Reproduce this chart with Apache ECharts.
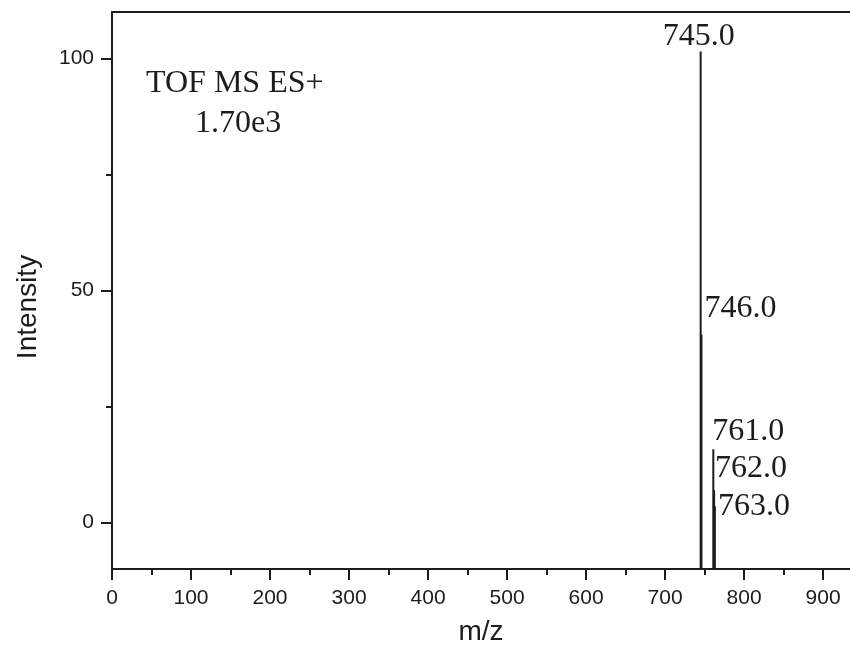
<!DOCTYPE html>
<html>
<head>
<meta charset="utf-8">
<title>TOF MS ES+ spectrum</title>
<script src="https://cdn.jsdelivr.net/npm/echarts@6/dist/echarts.min.js"></script>
<style>
  html, body { margin: 0; padding: 0; background: #ffffff; }
  #chart { width: 850px; height: 656px; }
</style>
</head>
<body>
<div id="chart"></div>
<script>
// Peak list of the mass spectrum (m/z, relative intensity)
const peakMz = [745, 746, 761, 762, 763];
const peakIntensity = [101.5, 40.5, 15.8, 7.0, 3.5];
const peakLabels = ['745.0', '746.0', '761.0', '762.0', '763.0'];

// Axis ticks
const xMajorTicks = [0, 100, 200, 300, 400, 500, 600, 700, 800, 900];
const xMinorTicks = [50, 150, 250, 350, 450, 550, 650, 750, 850];
const yMajorTicks = [0, 50, 100];
const yMinorTicks = [25, 75];

// Label placement relative to each peak top (pixels)
const labelOffsets = [
  { dx: -2, dy: -15, align: 'center' },
  { dx: 3, dy: -26, align: 'left' },
  { dx: -1, dy: -18, align: 'left' },
  { dx: 1, dy: -21, align: 'left' },
  { dx: 3, dy: 0, align: 'left' }
];

const ink = '#1c1c1c';
const serif = '"Liberation Serif", "Times New Roman", serif';
const sans = '"Liberation Sans", Arial, sans-serif';

const X_MIN = 0, X_MAX = 934, Y_MIN = -10, Y_MAX = 110;

const chart = echarts.init(document.getElementById('chart'), null, { renderer: 'canvas' });

const peaks = peakMz.map((mz, i) => [mz, peakIntensity[i], i]);

chart.setOption({
  backgroundColor: '#ffffff',
  animation: false,
  grid: { left: 112, right: 0, top: 12, bottom: 87 },
  xAxis: [
    {
      type: 'value', min: X_MIN, max: X_MAX, position: 'bottom',
      axisLine: { show: true, onZero: false, lineStyle: { color: ink, width: 2 } },
      axisTick: { show: true, inside: false, length: 11, customValues: xMajorTicks, lineStyle: { color: ink, width: 2 } },
      axisLabel: { show: true, customValues: xMajorTicks, margin: 19, color: ink, fontSize: 21, fontFamily: sans },
      splitLine: { show: false }
    },
    {
      type: 'value', min: X_MIN, max: X_MAX, position: 'bottom',
      axisLine: { show: false, onZero: false },
      axisTick: { show: true, inside: false, length: 6, customValues: xMinorTicks, lineStyle: { color: ink, width: 2 } },
      axisLabel: { show: false },
      splitLine: { show: false }
    },
    {
      type: 'value', min: X_MIN, max: X_MAX, position: 'top',
      axisLine: { show: true, onZero: false, lineStyle: { color: ink, width: 2 } },
      axisTick: { show: false },
      axisLabel: { show: false },
      splitLine: { show: false }
    }
  ],
  yAxis: [
    {
      type: 'value', min: Y_MIN, max: Y_MAX, position: 'left',
      axisLine: { show: true, onZero: false, lineStyle: { color: ink, width: 2 } },
      axisTick: { show: true, inside: false, length: 11, customValues: yMajorTicks, lineStyle: { color: ink, width: 2 } },
      axisLabel: { show: true, customValues: yMajorTicks, margin: 18, color: ink, fontSize: 21, fontFamily: sans },
      splitLine: { show: false }
    },
    {
      type: 'value', min: Y_MIN, max: Y_MAX, position: 'left',
      axisLine: { show: false, onZero: false },
      axisTick: { show: true, inside: false, length: 6, customValues: yMinorTicks, lineStyle: { color: ink, width: 2 } },
      axisLabel: { show: false },
      splitLine: { show: false }
    }
  ],
  graphic: [
    {
      type: 'text', left: 146, top: 68,
      style: { text: 'TOF MS ES+', font: '32px ' + serif, fill: ink }
    },
    {
      type: 'text', left: 195, top: 108,
      style: { text: '1.70e3', font: '32px ' + serif, fill: ink }
    },
    {
      type: 'text', x: 481, y: 632,
      style: { text: 'm/z', font: '28px ' + sans, fill: ink, align: 'center', verticalAlign: 'middle' }
    },
    {
      type: 'text', x: 28, y: 307, rotation: Math.PI / 2,
      style: { text: 'Intensity', font: '28px ' + sans, fill: ink, align: 'center', verticalAlign: 'middle' }
    }
  ],
  series: [
    {
      type: 'custom',
      xAxisIndex: 0,
      yAxisIndex: 0,
      clip: true,
      data: peaks,
      renderItem: function (params, api) {
        const mz = api.value(0);
        const inten = api.value(1);
        const idx = api.value(2);
        const base = api.coord([mz, Y_MIN]);
        const top = api.coord([mz, inten]);
        const off = labelOffsets[idx];
        return {
          type: 'group',
          children: [
            {
              type: 'line',
              shape: { x1: base[0], y1: base[1], x2: top[0], y2: top[1] },
              style: { stroke: ink, lineWidth: 2 }
            },
            {
              type: 'text',
              x: top[0] + off.dx,
              y: top[1] + off.dy,
              style: {
                text: peakLabels[idx],
                font: '32px ' + serif,
                fill: ink,
                align: off.align,
                verticalAlign: 'middle'
              }
            }
          ]
        };
      }
    }
  ]
});
</script>
</body>
</html>
